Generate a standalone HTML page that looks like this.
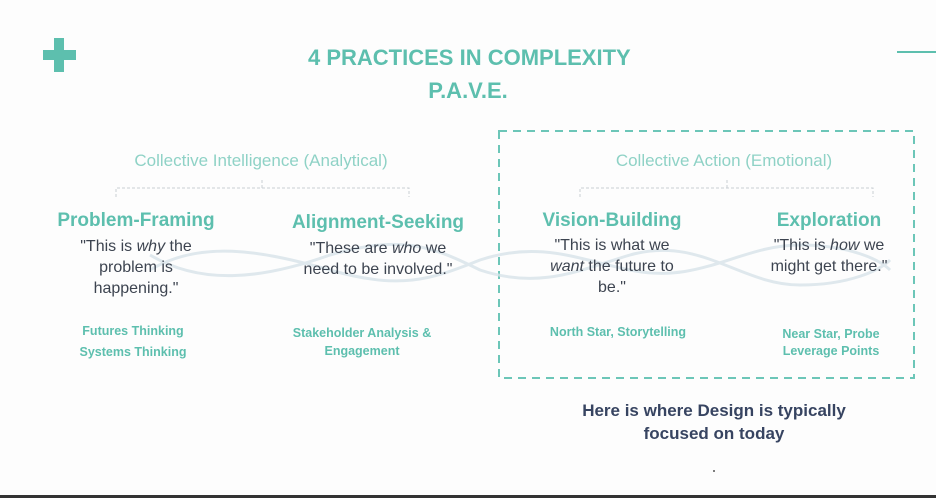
<!DOCTYPE html>
<html><head><meta charset="utf-8"><style>
body{margin:0;width:936px;height:498px;background:#fdfdfd;position:relative;overflow:hidden;font-family:"Liberation Sans",sans-serif}
.t{position:absolute;width:320px;text-align:center;white-space:nowrap;line-height:1}
.h{color:#5dbfae;font-weight:bold;font-size:19px}
.q{color:#3d4450;font-size:16px}
.s{color:#5dbfae;font-weight:bold;font-size:12.5px}
.c{color:#8fd2c6;font-size:17px}
</style></head><body>
<svg width="936" height="498" style="position:absolute;left:0;top:0">
<rect x="54" y="38" width="10" height="34" fill="#5dbfae"/>
<rect x="43" y="50" width="33" height="10" fill="#5dbfae"/>
<line x1="897" y1="52" x2="936" y2="52" stroke="#5dbfae" stroke-width="2"/>
<rect x="499" y="131" width="415" height="247" fill="none" stroke="#6cc6b8" stroke-width="2" stroke-dasharray="8,6"/>
<g fill="none" stroke="#c9cfd4" stroke-width="1" stroke-dasharray="3,2">
<path d="M116 197 V188 H409 V197 M262 188 V178"/>
<path d="M580 197 V188 H873 V197 M727 188 V178"/>
</g>
<g fill="none" stroke="#d8e4ea" stroke-width="3" opacity="0.8">
<path d="M150 270 C200 240 260 250 330 270 C400 290 430 280 480 260 C540 240 580 260 630 270 C700 285 740 245 800 245 C850 245 880 260 890 270"/>
<path d="M150 255 C200 285 260 280 330 255 C400 235 430 245 480 270 C540 290 580 270 630 255 C700 235 740 285 800 285 C850 285 880 270 890 260"/>
</g>
<rect x="0" y="495" width="936" height="3" fill="#333"/>
<circle cx="714" cy="471" r="1" fill="#555"/>
</svg>
<div class="t" style="left:308px;top:47px;color:#5dbfae;font-weight:bold;font-size:22px">4 PRACTICES IN COMPLEXITY</div>
<div class="t" style="left:308px;top:80px;color:#5dbfae;font-weight:bold;font-size:22px">P.A.V.E.</div>
<div class="t c" style="left:101px;top:152px">Collective Intelligence (Analytical)</div>
<div class="t c" style="left:564px;top:152px">Collective Action (Emotional)</div>
<div class="t h" style="left:-24px;top:211px">Problem-Framing</div>
<div class="t h" style="left:218px;top:213px">Alignment-Seeking</div>
<div class="t h" style="left:452px;top:211px">Vision-Building</div>
<div class="t h" style="left:669px;top:211px">Exploration</div>
<div class="t q" style="left:-24px;top:239px">"This is <i>why</i> the</div>
<div class="t q" style="left:-24px;top:260px">problem is</div>
<div class="t q" style="left:-24px;top:281px">happening."</div>
<div class="t q" style="left:218px;top:241px">"These are <i>who</i> we</div>
<div class="t q" style="left:218px;top:262px">need to be involved."</div>
<div class="t q" style="left:452px;top:238px">"This is what we</div>
<div class="t q" style="left:452px;top:259px"><i>want</i> the future to</div>
<div class="t q" style="left:452px;top:280px">be."</div>
<div class="t q" style="left:669px;top:238px">"This is <i>how</i> we</div>
<div class="t q" style="left:669px;top:259px">might get there."</div>
<div class="t s" style="left:-27px;top:325px">Futures Thinking</div>
<div class="t s" style="left:-27px;top:346px">Systems Thinking</div>
<div class="t s" style="left:202px;top:327px">Stakeholder Analysis &amp;</div>
<div class="t s" style="left:202px;top:345px">Engagement</div>
<div class="t s" style="left:458px;top:326px">North Star, Storytelling</div>
<div class="t s" style="left:671px;top:328px">Near Star, Probe</div>
<div class="t s" style="left:671px;top:345px">Leverage Points</div>
<div class="t" style="left:554px;top:402px;color:#374461;font-weight:bold;font-size:17px">Here is where Design is typically</div>
<div class="t" style="left:554px;top:425px;color:#374461;font-weight:bold;font-size:17px">focused on today</div>
</body></html>
